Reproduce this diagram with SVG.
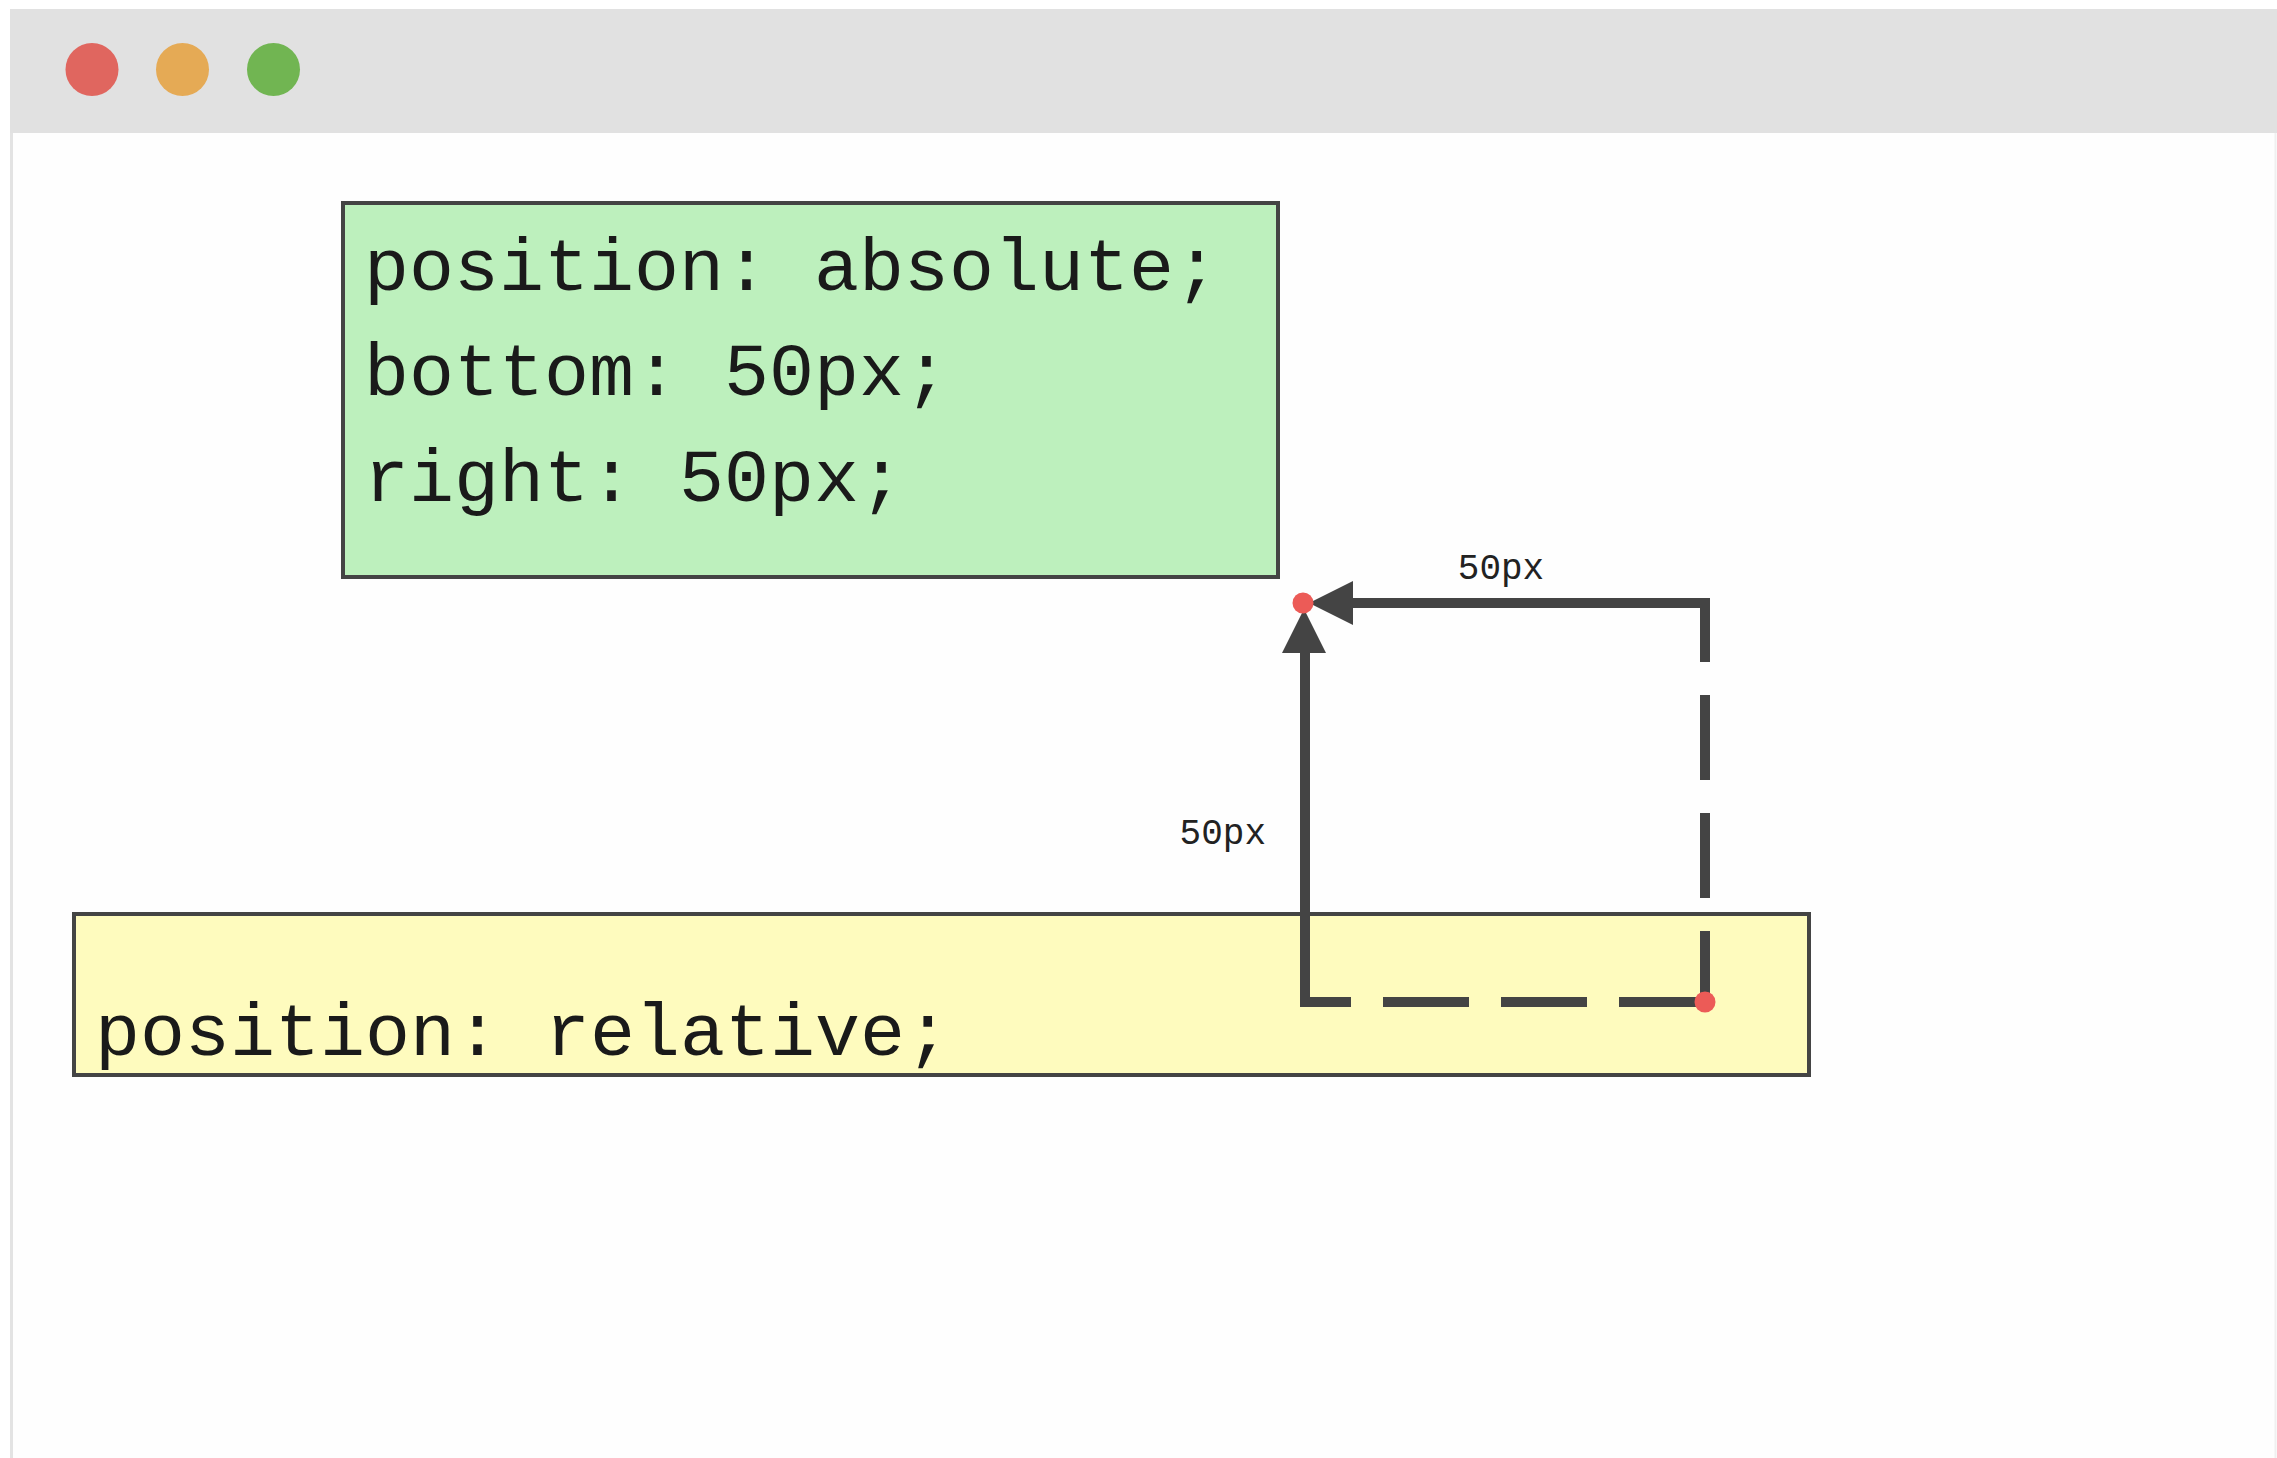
<svg xmlns="http://www.w3.org/2000/svg" width="2277" height="1458" viewBox="0 0 2277 1458">
  <style>
    .box { stroke: #444444; stroke-width: 4; }
    .code { font-family: "Liberation Mono", "DejaVu Sans Mono", monospace; font-size: 75px; fill: #1a1a1a; }
    .label { font-family: "Liberation Mono", "DejaVu Sans Mono", monospace; font-size: 36px; fill: #222222; }
    .solid { stroke: #444444; stroke-width: 10; fill: none; }
    .dash { stroke: #444444; stroke-width: 10; fill: none; }
    .dot { fill: #ec5b57; }
    .head { fill: #444444; }
  </style>
  <rect x="0" y="0" width="2277" height="1458" fill="#ffffff"/>
  <g id="window">
    <rect x="10" y="9" width="2267" height="1449" fill="#fefefe"/>
    <rect x="10" y="9" width="2267" height="124" fill="#e1e1e1"/>
    <line x1="11.5" y1="133" x2="11.5" y2="1458" stroke="#e3e3e3" stroke-width="3"/>
    <line x1="2275.5" y1="133" x2="2275.5" y2="1458" stroke="#f0f0f0" stroke-width="2"/>
    <circle cx="92" cy="69.5" r="26.5" fill="#e0665f"/>
    <circle cx="182.5" cy="69.5" r="26.5" fill="#e5aa55"/>
    <circle cx="273.5" cy="69.5" r="26.5" fill="#71b552"/>
  </g>
  <g id="relative-box">
    <rect class="box" x="74" y="914" width="1735" height="161" fill="#fefbbe"/>
    <text class="code" x="95" y="1055">position: relative;</text>
  </g>
  <g id="absolute-box">
    <rect class="box" x="343" y="203" width="935" height="374" fill="#bdf0bd"/>
    <text class="code" x="364" y="290">position: absolute;</text>
    <text class="code" x="364" y="395">bottom: 50px;</text>
    <text class="code" x="364" y="501">right: 50px;</text>
  </g>
  <g id="connectors">
    <path class="dash" d="M1705,1002 L1305,1002" stroke-dasharray="86 32"/>
    <path class="dash" d="M1705,603 L1705,1002" stroke-dasharray="85 33" stroke-dashoffset="26"/>
    <path class="solid" d="M1305,1002 L1305,650" stroke-linecap="square"/>
    <path class="solid" d="M1705,603 L1350,603" stroke-linecap="square"/>
    <polygon class="head" points="1309,603 1353,581 1353,625"/>
    <polygon class="head" points="1304,609 1326,653 1282,653"/>
    <text class="label" x="1501" y="579" text-anchor="middle">50px</text>
    <text class="label" x="1266" y="844" text-anchor="end">50px</text>
  </g>
  <g id="points">
    <circle class="dot" cx="1303" cy="603" r="10.5"/>
    <circle class="dot" cx="1705" cy="1002" r="10.5"/>
  </g>
</svg>
